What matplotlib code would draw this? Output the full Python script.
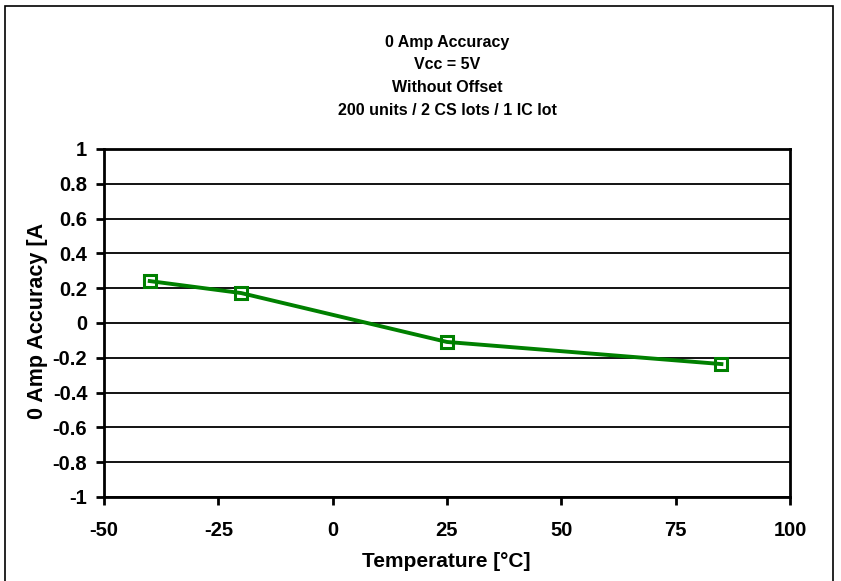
import matplotlib.pyplot as plt
from matplotlib.patches import Rectangle

plt.rcParams['font.family'] = ['Liberation Sans', 'DejaVu Sans']
plt.rcParams['font.weight'] = 'bold'

temp = [-40, -20, 25, 85]
accuracy = [0.241, 0.172, -0.109, -0.236]
xticks = [-50, -25, 0, 25, 50, 75, 100]
xtick_labels = ['-50', '-25', '0', '25', '50', '75', '100']
yticks = [-1, -0.8, -0.6, -0.4, -0.2, 0, 0.2, 0.4, 0.6, 0.8, 1]
ytick_labels = ['-1', '-0.8', '-0.6', '-0.4', '-0.2', '0', '0.2', '0.4', '0.6', '0.8', '1']
title_lines = ['0 Amp Accuracy', 'Vcc = 5V', 'Without Offset', '200 units / 2 CS lots / 1 IC lot']

fig = plt.figure(figsize=(8.41, 5.81), dpi=100)
ax = fig.add_axes([104/841, 84/581, 686/841, 348/581])

for y in yticks:
    ax.axhline(y, color='black', lw=1.3, zorder=1)

ax.plot(temp, accuracy, color='#008000', lw=2.8, marker='s', markersize=8,
        markerfacecolor='none', markeredgecolor='#008000', markeredgewidth=2.2, zorder=3)

ax.set_xlim(-50, 100)
ax.set_ylim(-1, 1)
ax.set_xticks(xticks)
ax.set_xticklabels(xtick_labels)
ax.set_yticks(yticks)
ax.set_yticklabels(ytick_labels)
ax.tick_params(direction='out', length=6, width=2, labelsize=14.5)
ax.tick_params(axis='y', pad=6)
ax.tick_params(axis='x', pad=11)
for s in ax.spines.values():
    s.set_linewidth(2)

ax.set_xlabel('Temperature [°C]', fontsize=15, fontweight='bold')
ax.xaxis.set_label_coords(0.4985, -0.158)
ax.set_ylabel('0 Amp Accuracy [A', fontsize=15.5, fontweight='bold')
ax.yaxis.set_label_coords(-0.082, 0.506)

for i, line in enumerate(title_lines):
    fig.text(447/841, 1 - (42 + i*22.7)/581, line, ha='center', va='center',
             fontsize=11.5, fontweight='bold')

fig.patches.append(Rectangle((5/841, -0.01), 828/841, 1 - 6/581 + 0.01,
                             transform=fig.transFigure, fill=False,
                             edgecolor='black', lw=1.2))

fig.savefig('out.png', dpi=100)
